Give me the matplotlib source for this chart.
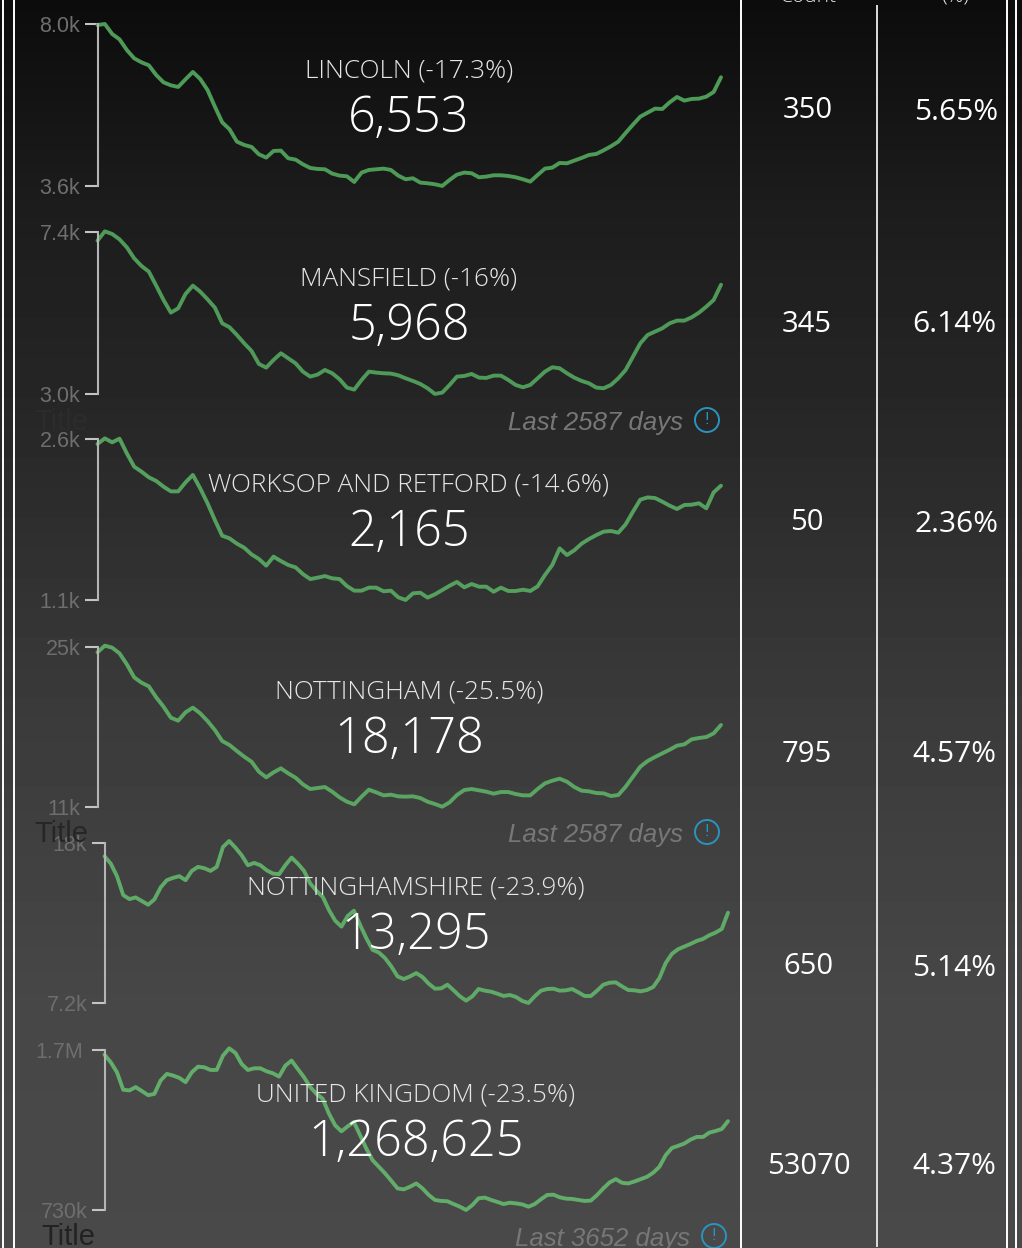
import numpy as np
import matplotlib
matplotlib.use("Agg")
import matplotlib.pyplot as plt
from matplotlib.patches import Ellipse

# Monthly values
lincoln = [7973, 8000, 7729, 7584, 7294, 7068, 6959, 6878, 6615, 6416, 6335, 6290, 6498, 6697, 6507, 6208, 5756, 5330,
           5140, 4805, 4715, 4661, 4461, 4371, 4552, 4561, 4353, 4317, 4190, 4090, 4063, 4054, 3937, 3882, 3864, 3710,
           3964, 4036, 4054, 4072, 4036, 3882, 3783, 3810, 3692, 3674, 3647, 3602, 3765, 3909, 3964, 3946, 3837, 3855,
           3891, 3891, 3873, 3837, 3783, 3719, 3900, 4072, 4099, 4226, 4217, 4290, 4362, 4443, 4471, 4570, 4679, 4805,
           5041, 5267, 5484, 5593, 5701, 5692, 5873, 6018, 5919, 5964, 5973, 6027, 6154, 6553]
mansfield = [7165, 7418, 7346, 7201, 6984, 6685, 6477, 6323, 5943, 5554, 5210, 5328, 5717, 5943, 5780, 5572, 5346, 4920,
             4812, 4604, 4377, 4169, 3816, 3717, 3925, 4106, 3970, 3834, 3608, 3472, 3527, 3653, 3563, 3400, 3174, 3119,
             3382, 3608, 3581, 3563, 3554, 3509, 3427, 3355, 3273, 3156, 3002, 3038, 3246, 3472, 3490, 3545, 3445, 3436,
             3499, 3499, 3382, 3246, 3183, 3246, 3427, 3608, 3726, 3699, 3563, 3445, 3355, 3291, 3174, 3156, 3246, 3427,
             3653, 4015, 4377, 4604, 4694, 4785, 4920, 4993, 4993, 5083, 5210, 5373, 5554, 5968]
worksop = [2553, 2606, 2569, 2603, 2466, 2342, 2296, 2243, 2209, 2156, 2112, 2112, 2196, 2265, 2140, 2001, 1845, 1699,
           1674, 1625, 1587, 1525, 1482, 1420, 1504, 1463, 1426, 1404, 1342, 1295, 1308, 1323, 1302, 1295, 1230, 1187,
           1187, 1215, 1215, 1181, 1187, 1125, 1100, 1162, 1168, 1122, 1153, 1193, 1233, 1268, 1218, 1249, 1224, 1224,
           1177, 1215, 1184, 1184, 1196, 1184, 1227, 1333, 1426, 1581, 1519, 1563, 1625, 1668, 1705, 1737, 1743, 1727,
           1805, 1923, 2035, 2056, 2050, 2016, 1979, 1948, 1985, 1988, 2001, 1954, 2103, 2165]
nottingham = [24533, 25117, 24942, 24446, 23483, 22346, 21879, 21558, 20595, 19779, 18816, 18553, 19283, 19691, 19195,
              18524, 17737, 16774, 16424, 15899, 15403, 14965, 14091, 13594, 14032, 14382, 13945, 13565, 12982, 12574,
              12661, 12749, 12340, 11844, 11465, 11232, 11903, 12515, 12282, 12019, 12078, 11932, 11903, 11932, 11786,
              11465, 11261, 11028, 11407, 12048, 12486, 12574, 12457, 12340, 12165, 12311, 12311, 12136, 12019, 12019,
              12574, 13070, 13303, 13478, 13215, 12749, 12428, 12370, 12224, 12194, 11961, 12048, 12778, 13653, 14528,
              15024, 15374, 15695, 16016, 16366, 16483, 16920, 17037, 17124, 17445, 18178]
nottinghamshire = [17104, 16611, 15760, 14483, 14214, 14326, 14080, 13834, 14192, 14998, 15491, 15648, 15760, 15491,
                   16118, 16387, 16298, 16118, 16387, 17731, 18134, 17686, 17171, 16499, 16656, 16499, 16163, 15939,
                   15894, 16499, 17014, 16611, 16118, 15267, 14774, 14371, 13475, 12758, 12355, 13072, 13430, 12467,
                   11571, 10787, 10608, 10227, 9667, 8995, 8816, 8995, 9219, 8950, 8502, 8166, 8189, 8435, 8054, 7651,
                   7360, 7651, 8144, 8032, 7965, 7830, 7674, 7741, 7606, 7338, 7203, 7651, 8032, 8144, 8166, 8032, 8054,
                   8144, 7920, 7674, 7674, 8032, 8435, 8570, 8592, 8323, 8077, 8054, 7987, 8077, 8278, 8883, 9891, 10518,
                   10832, 11011, 11190, 11392, 11526, 11773, 11952, 12198, 13295]
united_kingdom = [1672000, 1626000, 1565000, 1459000, 1455000, 1475000, 1451000, 1426000, 1434000, 1515000, 1555000,
                  1545000, 1531000, 1505000, 1565000, 1599000, 1595000, 1579000, 1579000, 1666000, 1710000, 1682000,
                  1615000, 1579000, 1589000, 1589000, 1571000, 1559000, 1539000, 1605000, 1636000, 1585000, 1535000,
                  1475000, 1434000, 1404000, 1314000, 1243000, 1207000, 1237000, 1263000, 1183000, 1102000, 1032000,
                  992000, 952000, 907000, 861000, 855000, 871000, 891000, 861000, 821000, 791000, 785000, 783000,
                  766000, 750000, 730000, 760000, 801000, 805000, 791000, 779000, 766000, 774000, 770000, 764000,
                  750000, 766000, 795000, 821000, 823000, 807000, 799000, 797000, 791000, 785000, 787000, 821000,
                  861000, 897000, 917000, 895000, 891000, 903000, 917000, 931000, 956000, 992000, 1062000, 1106000,
                  1119000, 1133000, 1157000, 1173000, 1173000, 1199000, 1209000, 1221000, 1268625]

series = [lincoln, mansfield, worksop, nottingham, nottinghamshire, united_kingdom]
names = ["LINCOLN (-17.3%)", "MANSFIELD (-16%)", "WORKSOP AND RETFORD (-14.6%)", "NOTTINGHAM (-25.5%)",
         "NOTTINGHAMSHIRE (-23.9%)", "UNITED KINGDOM (-23.5%)"]
latest = ["6,553", "5,968", "2,165", "18,178", "13,295", "1,268,625"]
axis_low = [3600, 3000, 1100, 11000, 7200, 730000]
axis_high = [8000, 7400, 2600, 25000, 18000, 1700000]
low_labels = ["3.6k", "3.0k", "1.1k", "11k", "7.2k", "730k"]
high_labels = ["8.0k", "7.4k", "2.6k", "25k", "18k", "1.7M"]
counts = ["350", "345", "50", "795", "650", "53070"]
percents = ["5.65%", "6.14%", "2.36%", "4.57%", "5.14%", "4.37%"]

W, H = 1022, 1248

# panel layout in pixels: left, right, top tick, bottom tick
panels = [(97.5, 721, 24, 186), (97.5, 721, 232, 394), (97.5, 721, 439, 600),
          (97.5, 721, 647, 807), (104.5, 728, 843, 1003), (104.5, 728, 1050, 1210)]
line_colors = ["#4e9a57", "#4f9a58", "#55a05e", "#5aa562", "#60aa68", "#63ad6b"]
name_pos = [(409, 71), (409, 279), (409, 485), (409, 692), (416, 888), (416, 1095)]
value_pos = [(409, 119), (409, 327), (409, 533), (409, 740), (416, 936), (416, 1143)]
count_pos = [(808, 111), (807, 324), (807, 523), (807, 754), (808, 966), (809, 1166)]
percent_pos = [(956, 112), (954, 325), (956, 525), (954, 755), (954, 968), (954, 1167)]

light = {"family": ["Open Sans", "DejaVu Sans"], "weight": "light"}
regular = {"family": ["Open Sans", "DejaVu Sans"], "weight": "normal"}
arial = "Liberation Sans"

fig = plt.figure(figsize=(W / 100, H / 100), dpi=100)

# background gradient
bg = fig.add_axes([0, 0, 1, 1], zorder=0)
shade = np.interp(np.arange(H), [0, 200, 400, 700, 1000, 1248], [12, 28, 38, 58, 71, 73]) / 255
bg.imshow(shade[:, None], cmap="gray", vmin=0, vmax=1, aspect="auto")
bg.axis("off")

# one small line chart per area
for i in range(len(series)):
    left, right, top, bottom = panels[i]
    ax = fig.add_axes([left / W, 1 - bottom / H, (right - left) / W, (bottom - top) / H], zorder=1)
    ax.patch.set_alpha(0)
    ax.plot(np.arange(len(series[i])), series[i], color=line_colors[i], lw=2.8, clip_on=False,
            solid_joinstyle="round", solid_capstyle="round")
    ax.set_xlim(0, len(series[i]) - 1)
    ax.set_ylim(axis_low[i], axis_high[i])
    ax.set_xticks([])
    ax.set_yticks([axis_low[i], axis_high[i]])
    ax.set_yticklabels([low_labels[i], high_labels[i]], family=arial, fontsize=15.5, color="#6e6e6e")
    ax.tick_params(axis="y", length=9.5, width=1.5, color="#c4c4c4", pad=3)
    for side in ["top", "right", "bottom"]:
        ax.spines[side].set_visible(False)
    ax.spines["left"].set_color("#b4b4b4")
    ax.spines["left"].set_linewidth(1.5)
    if i == 5:
        # the 1.7M label sits further left than 730k
        ax.yaxis.get_major_ticks()[1].set_pad(6)

# everything else sits on a pixel overlay
over = fig.add_axes([0, 0, 1, 1], zorder=2)
over.set_xlim(0, W)
over.set_ylim(H, 0)
over.axis("off")

for x, y0, color in [(2.5, 0, "white"), (13.5, 0, "white"), (741, 0, "white"), (876.5, 6, "#dddddd"),
                     (1006.5, 0, "white"), (1015.5, 0, "white")]:
    over.plot([x, x], [y0, 1246 if x == 876.5 else H], color=color, lw=1.4)

for i in range(len(series)):
    over.text(name_pos[i][0], name_pos[i][1], names[i], color="#e6e6e6", fontsize=18.8, ha="center", va="center", **light)
    over.text(value_pos[i][0], value_pos[i][1], latest[i], color="white", fontsize=35, ha="center", va="center", **light)
    over.text(count_pos[i][0], count_pos[i][1], counts[i], color="white", fontsize=21, ha="center", va="center", **regular)
    over.text(percent_pos[i][0], percent_pos[i][1], percents[i], color="white", fontsize=21.5, ha="center", va="center", **regular)

# clipped column headers
over.text(808, -3, "Count", color="#e6e6e6", fontsize=15, ha="center", va="center", **light)
over.text(955, -3, "(%)", color="#e6e6e6", fontsize=15, ha="center", va="center", **light)

# footers
for x, y, days in [(683, 423, "Last 2587 days"), (683, 835, "Last 2587 days"), (690, 1239, "Last 3652 days")]:
    over.text(x, y, days, color="#777777", fontsize=18.5, style="italic", family=arial, ha="right", va="center")
    over.add_patch(Ellipse((x + 24, y - 3), 24, 24, fill=False, ec="#2a94c0", lw=1.4))
    over.text(x + 24, y - 3, "!", color="#2a94c0", fontsize=12, ha="center", va="center", family=arial)

for x, y, color in [(61, 422, "#2c2c2c"), (61, 834, "#262626"), (68, 1237, "#222222")]:
    over.text(x, y, "Title", color=color, fontsize=21, family=arial, ha="center", va="center")

fig.savefig("out.png", dpi=100)
